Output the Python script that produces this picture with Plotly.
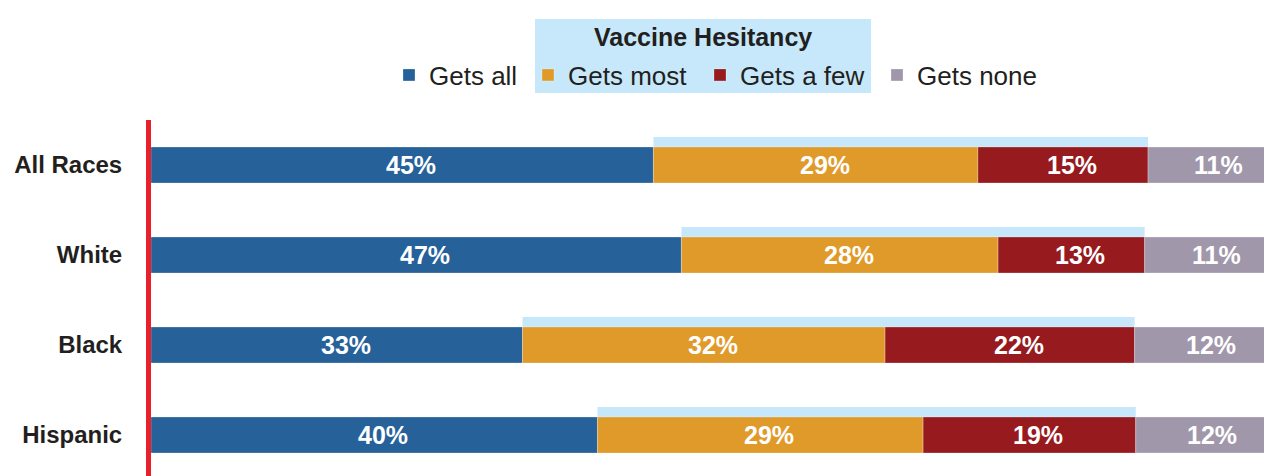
import plotly.graph_objects as go

categories = ["All Races", "White", "Black", "Hispanic"]
series_names = ["Gets all", "Gets most", "Gets a few", "Gets none"]
gets_all = [44.9, 47.4, 33.2, 39.9]
gets_most = [29.0, 28.3, 32.4, 29.1]
gets_few = [15.2, 13.1, 22.3, 19.0]
gets_none = [10.9, 11.2, 12.1, 12.0]
labels_all = ["45%", "47%", "33%", "40%"]
labels_most = ["29%", "28%", "32%", "29%"]
labels_few = ["15%", "13%", "22%", "19%"]
labels_none = ["11%", "11%", "12%", "12%"]
legend_title = "Vaccine Hesitancy"

colors = ["#26619a", "#e09a2a", "#961a1e", "#a197aa"]
strip_color = "#c6e8fa"
font_family = "Liberation Sans, Arial, sans-serif"
text_color = "#231f20"

series = [gets_all, gets_most, gets_few, gets_none]
labels = [labels_all, labels_most, labels_few, labels_none]

W, H = 1264, 468
ML, MR, MT, MB = 143, 2, 112, 0
plot_w = W - ML - MR
plot_h = H - MT - MB
px_per_cat = 90
bar_w = 36 / px_per_cat
strip_h = 10 / px_per_cat

def px_x(p):
    return (p - ML) / plot_w

def px_y(p):
    return 1 + (MT - p) / plot_h

# legend icon centres (figure pixels) for each entry
legend_icon_x = [401, 540, 712, 889]
legend_icon_y = 67
legend_ids = ["legend", "legend2", "legend3", "legend4"]

fig = go.Figure()

# light-blue strip above the "most" + "few" segments
fig.add_trace(go.Bar(
    y=categories,
    x=[m + f for m, f in zip(gets_most, gets_few)],
    base=gets_all,
    orientation="h",
    width=strip_h,
    offset=-bar_w / 2 - strip_h,
    marker=dict(color=strip_color, line=dict(width=0)),
    showlegend=False,
    hoverinfo="skip",
))

annotations = []
bases = [0.0] * len(categories)
for name, vals, labs, col, lid in zip(series_names, series, labels, colors, legend_ids):
    fig.add_trace(go.Bar(
        name=name,
        y=categories,
        x=vals,
        base=list(bases),
        orientation="h",
        width=bar_w,
        legend=lid,
        marker=dict(color=col, line=dict(width=0.6, color="rgba(255,255,255,0.45)")),
    ))
    for cat, b, v, lab in zip(categories, bases, vals, labs):
        annotations.append(dict(
            x=b + v / 2, y=cat, xref="x", yref="y",
            text=lab, showarrow=False, xshift=9,
            font=dict(family=font_family, size=25, color="white", weight="bold"),
        ))
    bases = [b + v for b, v in zip(bases, vals)]

annotations.append(dict(
    x=px_x(695), y=px_y(29), xref="paper", yref="paper",
    xanchor="center", yanchor="middle", showarrow=False,
    text="<b>" + legend_title + "</b>",
    font=dict(family=font_family, size=25, color=text_color),
))

shapes = [
    # legend highlight box
    dict(type="rect", xref="paper", yref="paper",
         x0=px_x(527), x1=px_x(863), y0=px_y(85), y1=px_y(11),
         fillcolor=strip_color, line=dict(width=0), layer="below"),
]

legend_common = dict(
    orientation="h", xanchor="left", yanchor="middle",
    bgcolor="rgba(0,0,0,0)", borderwidth=0,
    font=dict(family=font_family, size=26, color=text_color),
    itemclick=False, itemdoubleclick=False,
)
legend_layout = {}
for lid, cx in zip(legend_ids, legend_icon_x):
    legend_layout[lid] = dict(legend_common, x=px_x(cx - 20), y=px_y(legend_icon_y))

fig.update_layout(
    width=W, height=H,
    margin=dict(l=ML, r=MR, t=MT, b=MB, pad=0),
    barmode="overlay",
    paper_bgcolor="white",
    plot_bgcolor="white",
    font=dict(family=font_family, color=text_color),
    shapes=shapes,
    annotations=annotations,
    xaxis=dict(visible=False, range=[0, 100], fixedrange=True),
    yaxis=dict(
        categoryorder="array", categoryarray=categories,
        range=[-0.5 + plot_h / px_per_cat, -0.5],
        showgrid=False, zeroline=False,
        showline=True, linecolor="#e8202a", linewidth=5,
        ticks="outside", ticklen=19, tickcolor="rgba(0,0,0,0)",
        tickfont=dict(family=font_family, size=24, color=text_color, weight="bold"),
    ),
    **legend_layout,
)

fig.write_html("out.html")
